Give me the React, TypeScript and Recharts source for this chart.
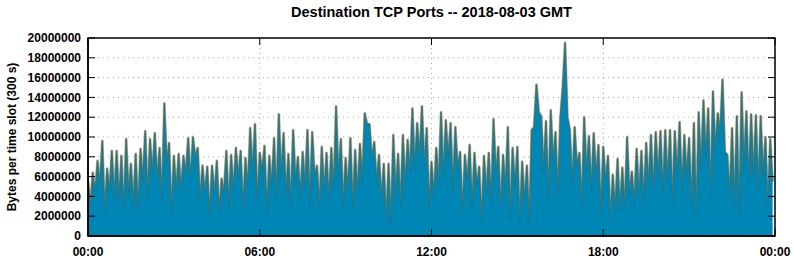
import React from "react";
import { AreaChart, Area, XAxis, YAxis, CartesianGrid } from "recharts";

const title = "Destination TCP Ports -- 2018-08-03 GMT";
const yLabel = "Bytes per time slot (300 s)";

// bytes per 300 s slot, in millions
const slots0000to0555 = [
  5.6, 3.1, 6.4, 4.4, 7.6, 5.2, 9.6, 2.4, 6.8, 4.6, 8.6, 3.8,
  8.6, 3.6, 8.1, 2.6, 9.8, 4.3, 7.3, 3.1, 8.3, 2.4, 8.8, 5.6,
  10.6, 3.9, 9.8, 6.3, 10.4, 5.6, 8.9, 3.6, 13.4, 7.3, 9.4, 2.3,
  8.1, 4.6, 8.3, 4.5, 8.1, 6.3, 9.9, 5.6, 10.0, 7.9, 8.9, 3.6,
  7.1, 4.3, 7.0, 2.1, 7.1, 4.1, 7.6, 2.3, 5.8, 4.3, 8.6, 2.9,
  8.2, 4.6, 8.9, 5.9, 8.6, 2.6, 7.9, 4.9, 10.9, 6.3, 11.3, 3.3,
];
const slots0600to1155 = [
  8.4, 6.5, 9.1, 2.3, 8.1, 5.0, 9.9, 3.7, 12.3, 5.9, 10.4, 4.0,
  8.3, 3.0, 10.7, 5.5, 8.0, 3.8, 8.5, 5.0, 10.7, 3.2, 10.5, 6.0,
  7.1, 2.8, 9.0, 4.4, 8.4, 3.5, 8.9, 4.6, 13.1, 6.0, 9.8, 3.0,
  7.9, 4.5, 9.9, 2.8, 8.7, 4.2, 9.3, 5.6, 12.4, 11.3, 11.3, 7.8,
  9.5, 5.4, 8.2, 3.6, 7.3, 1.5, 7.3, 1.4, 10.2, 4.2, 8.3, 3.0,
  10.2, 5.1, 9.7, 6.4, 12.9, 6.8, 11.4, 8.0, 13.1, 7.0, 10.9, 2.8,
];
const slots1200to1755 = [
  7.5, 4.0, 8.9, 5.2, 12.5, 6.0, 11.7, 7.8, 11.4, 4.5, 11.0, 6.8,
  8.5, 2.3, 8.2, 5.5, 9.2, 2.8, 8.4, 5.0, 7.0, 1.5, 8.1, 4.2,
  8.4, 3.4, 11.8, 6.2, 9.0, 2.5, 8.2, 4.6, 11.0, 1.7, 8.9, 5.0,
  9.0, 1.3, 7.5, 3.6, 7.1, 1.2, 10.7, 11.0, 15.3, 12.5, 12.1, 6.5,
  11.6, 3.8, 12.7, 7.5, 10.5, 4.0, 11.9, 15.0, 19.5, 12.0, 10.7, 5.0,
  11.0, 7.0, 8.4, 3.0, 12.0, 6.5, 10.1, 4.5, 10.4, 6.0, 9.2, 2.3,
];
const slots1800to2355 = [
  9.0, 5.5, 8.1, 1.6, 6.2, 2.6, 7.8, 2.6, 6.9, 2.8, 10.0, 4.2,
  6.5, 3.2, 8.8, 4.0, 8.6, 3.5, 9.4, 5.0, 10.2, 4.5, 10.5, 5.8,
  10.6, 4.2, 10.7, 5.5, 10.7, 3.3, 10.6, 6.0, 11.5, 4.5, 10.2, 6.0,
  9.9, 2.8, 11.4, 1.9, 12.5, 6.5, 13.7, 8.0, 12.9, 4.0, 14.6, 8.5,
  12.4, 10.5, 15.8, 8.5, 8.2, 4.0, 10.9, 3.0, 12.1, 2.2, 14.5, 7.0,
  12.6, 5.5, 12.3, 6.0, 12.2, 4.5, 12.1, 6.0, 10.0, 2.8, 9.8, 5.5,
];

const xTicks = [0, 72, 144, 216, 288];
const xTickLabels = ["00:00", "06:00", "12:00", "18:00", "00:00"];
const yTicks = [
  0, 2000000, 4000000, 6000000, 8000000, 10000000, 12000000, 14000000,
  16000000, 18000000, 20000000,
];

const chartData = [
  ...slots0000to0555,
  ...slots0600to1155,
  ...slots1200to1755,
  ...slots1800to2355,
].map((millions, slot) => ({ slot, bytes: millions * 1000000 }));

const X_MAX = 288;
const Y_MAX = 20000000;

// plot box, shared by the chart margins and the frame overlay
const PLOT = { left: 88, top: 38, width: 687, height: 198 };
const TICK = 7;

const font = "'Liberation Sans', Arial, sans-serif";
const tickStyle = { fontFamily: font, fontWeight: "bold", fontSize: 12, fill: "#000" };
const axisStroke = { stroke: "#000", strokeWidth: 1.5 };

// gnuplot-style closed border with mirrored inward ticks on top and right
function Frame() {
  const right = PLOT.left + PLOT.width;
  const bottom = PLOT.top + PLOT.height;
  return (
    <svg
      width={794}
      height={260}
      style={{ position: "absolute", left: 0, top: 0, zIndex: 10, pointerEvents: "none" }}
    >
      <rect
        x={PLOT.left}
        y={PLOT.top}
        width={PLOT.width}
        height={PLOT.height}
        fill="none"
        stroke="#000"
        strokeWidth={1.5}
      />
      {yTicks.map((t) => {
        const y = bottom - (t / Y_MAX) * PLOT.height;
        return <line key={`r${t}`} x1={right - TICK} y1={y} x2={right} y2={y} stroke="#000" />;
      })}
      {xTicks.map((t) => {
        const x = PLOT.left + (t / X_MAX) * PLOT.width;
        return <line key={`t${t}`} x1={x} y1={PLOT.top} x2={x} y2={PLOT.top + TICK} stroke="#000" />;
      })}
    </svg>
  );
}

export default function App() {
  return (
    <div
      style={{
        position: "absolute",
        left: 0,
        top: 0,
        width: 794,
        height: 260,
        background: "#fff",
        fontFamily: font,
      }}
    >
      <AreaChart
        width={794}
        height={260}
        data={chartData}
        margin={{ top: PLOT.top, right: 794 - PLOT.left - PLOT.width, bottom: 0, left: 8 }}
      >
        <CartesianGrid stroke="#a8a8a8" strokeDasharray="1 4" />
        <XAxis
          dataKey="slot"
          type="number"
          domain={[0, X_MAX]}
          ticks={xTicks}
          interval={0}
          allowDataOverflow
          tickFormatter={(v) => xTickLabels[xTicks.indexOf(v)]}
          tick={tickStyle}
          tickSize={-TICK}
          tickMargin={18}
          height={260 - PLOT.top - PLOT.height}
          axisLine={axisStroke}
          tickLine={{ stroke: "#000" }}
        />
        <YAxis
          type="number"
          domain={[0, Y_MAX]}
          ticks={yTicks}
          interval={0}
          allowDataOverflow
          tick={tickStyle}
          tickSize={-TICK}
          tickMargin={14}
          width={PLOT.left - 8}
          axisLine={axisStroke}
          tickLine={{ stroke: "#000" }}
        />
        <Area
          type="linear"
          dataKey="bytes"
          fill="none"
          stroke="#bdbdbd"
          strokeWidth={2.8}
          strokeLinejoin="round"
          dot={false}
          activeDot={false}
          isAnimationActive={false}
        />
        <Area
          type="linear"
          dataKey="bytes"
          fill="none"
          stroke="#8a7d3c"
          strokeWidth={1.7}
          strokeLinejoin="round"
          dot={false}
          activeDot={false}
          isAnimationActive={false}
        />
        <Area
          type="linear"
          dataKey="bytes"
          fill="#0086b4"
          fillOpacity={1}
          stroke="#226f8c"
          strokeWidth={0.6}
          strokeLinejoin="round"
          dot={false}
          activeDot={false}
          isAnimationActive={false}
        />
      </AreaChart>
      <Frame />
      <div
        style={{
          position: "absolute",
          left: PLOT.left,
          width: PLOT.width,
          top: 4,
          textAlign: "center",
          fontSize: 14.5,
          fontWeight: "bold",
          whiteSpace: "nowrap",
        }}
      >
        {title}
      </div>
      <div
        style={{
          position: "absolute",
          left: 12,
          top: 137,
          transform: "translate(-50%, -50%) rotate(-90deg)",
          fontSize: 12,
          fontWeight: "bold",
          whiteSpace: "nowrap",
        }}
      >
        {yLabel}
      </div>
    </div>
  );
}
